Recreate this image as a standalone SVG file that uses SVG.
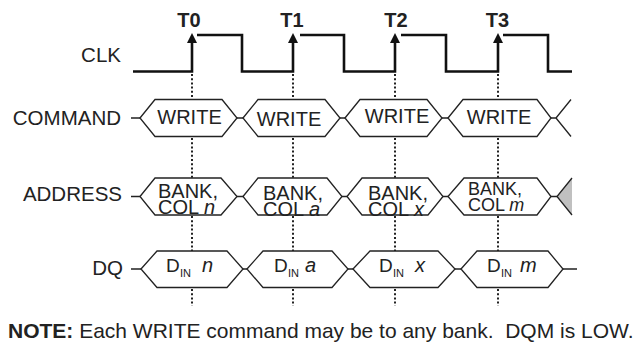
<svg xmlns="http://www.w3.org/2000/svg" width="642" height="345" viewBox="0 0 642 345">
<style>
text{font-family:"Liberation Sans",Arial,sans-serif;fill:#222}
.lbl{font-size:20.5px;text-anchor:end}
.tl{font-size:20px;font-weight:bold;text-anchor:middle}
.w{font-size:20px;text-anchor:middle}
.a{font-size:20px}
.d{font-size:19px}
.v{font-size:20px;font-style:italic}
.sub{font-size:11px}
.it{font-style:italic}
.hex{fill:#fff;stroke:#222;stroke-width:1.3}
.wire{fill:none;stroke:#222;stroke-width:1.3}
.clk{fill:none;stroke:#111;stroke-width:2.6}
.dot{fill:none;stroke:#222;stroke-width:2;stroke-dasharray:2 2.2}
</style>
<rect width="642" height="345" fill="#fff"/>
<g id="connectors">
<g id="dotted">
<path class="dot" d="M192,74V99M192,138V178M192,216V251M192,289V306"/>
<path class="dot" d="M293,74V99M293,138V178M293,216V251M293,289V306"/>
<path class="dot" d="M395,74V99M395,138V178M395,216V251M395,289V306"/>
<path class="dot" d="M498,74V99M498,138V178M498,216V251M498,289V306"/>
</g>
</g>
<g id="clk">
<text class="lbl" x="121" y="62">CLK</text>
<path class="clk" d="M133,71.5H192V41M197,35H242V71.5H293V41M300,35H344V71.5H395V41M401,35H446V71.5H498V41M503,35H548V71.5H572"/>
<polygon points="192,33 187,43 197,43" fill="#111"/>
<polygon points="293,33 288,43 298,43" fill="#111"/>
<polygon points="395,33 390,43 400,43" fill="#111"/>
<polygon points="498,33 493,43 503,43" fill="#111"/>
<text class="tl" x="189" y="27">T0</text>
<text class="tl" x="292" y="27">T1</text>
<text class="tl" x="396" y="27">T2</text>
<text class="tl" x="497.5" y="27">T3</text>
</g>
<g id="command">
<text class="lbl" x="121" y="125">COMMAND</text>
<path class="wire" d="M131,118H140M237,118H243M340,118H345M442,118H448M551,118H556L571,99.5M556,118L571,136.5"/>
<path class="hex" d="M140,118L155,99.5H222L237,118L222,136.5H155Z"/>
<path class="hex" d="M243,118L258,99.5H325L340,118L325,136.5H258Z"/>
<path class="hex" d="M345,118L360,99.5H427L442,118L427,136.5H360Z"/>
<path class="hex" d="M448,118L463,99.5H537L551,118L537,136.5H463Z"/>
<text class="w" x="189.5" y="124">WRITE</text>
<text class="w" x="289" y="126">WRITE</text>
<text class="w" x="397" y="123">WRITE</text>
<text class="w" x="499" y="124">WRITE</text>
</g>
<g id="address">
<text class="lbl" x="122" y="201">ADDRESS</text>
<path class="wire" d="M131,196.5H140M237,196.5H243M342,196.5H347M443,196.5H448M551,196.5H557"/>
<path class="hex" d="M140,196.5L155,178H221L237,196.5L221,215H155Z"/>
<path class="hex" d="M243,196.5L258,178H327L342,196.5L327,215H258Z"/>
<path class="hex" d="M347,196.5L362,178H428L443,196.5L428,215H362Z"/>
<path class="hex" d="M448,196.5L464,178H537L551,196.5L537,215H464Z"/>
<path d="M557,196.5L572,178V215Z" fill="#c0c0c0"/>
<path class="wire" d="M572,178L557,196.5L572,215"/>
<text class="a" x="158" y="197.5">BANK,</text>
<text class="a" x="158" y="214">COL <tspan class="it">n</tspan></text>
<text class="a" x="263" y="199.5">BANK,</text>
<text class="a" x="263" y="216">COL <tspan class="it">a</tspan></text>
<text class="a" x="368" y="199.5">BANK,</text>
<text class="a" x="368" y="216">COL <tspan class="it">x</tspan></text>
<text class="a" x="468" y="194.5" style="font-size:18px">BANK,</text>
<text class="a" x="468" y="211" style="font-size:18px">COL <tspan class="it">m</tspan></text>
</g>
<g id="dq">
<text class="lbl" x="123" y="275">DQ</text>
<path class="wire" d="M131,269H141M243,269H247M348,269H353M455,269H461M563,269H577"/>
<path class="hex" d="M141,269L157,251H227L243,269L227,287.5H157Z"/>
<path class="hex" d="M247,269L263,251H332L348,269L332,287.5H263Z"/>
<path class="hex" d="M353,269L370,251H438L455,269L438,287.5H370Z"/>
<path class="hex" d="M461,269L477,251H548L563,269L548,287.5H477Z"/>
<text class="d" x="166" y="272">D</text><text class="sub" x="180" y="277">IN</text><text class="v" x="202" y="272">n</text>
<text class="d" x="274" y="272">D</text><text class="sub" x="288" y="277">IN</text><text class="v" x="305" y="272">a</text>
<text class="d" x="379" y="272">D</text><text class="sub" x="393" y="277">IN</text><text class="v" x="415" y="272">x</text>
<text class="d" x="487" y="272">D</text><text class="sub" x="501" y="277">IN</text><text class="v" x="520" y="272">m</text>
</g>
<g id="note">
<text x="8" y="338" style="font-size:21px;white-space:pre"><tspan font-weight="bold">NOTE:</tspan> Each WRITE command may be to any bank.  DQM is LOW.</text>
</g>
</svg>
